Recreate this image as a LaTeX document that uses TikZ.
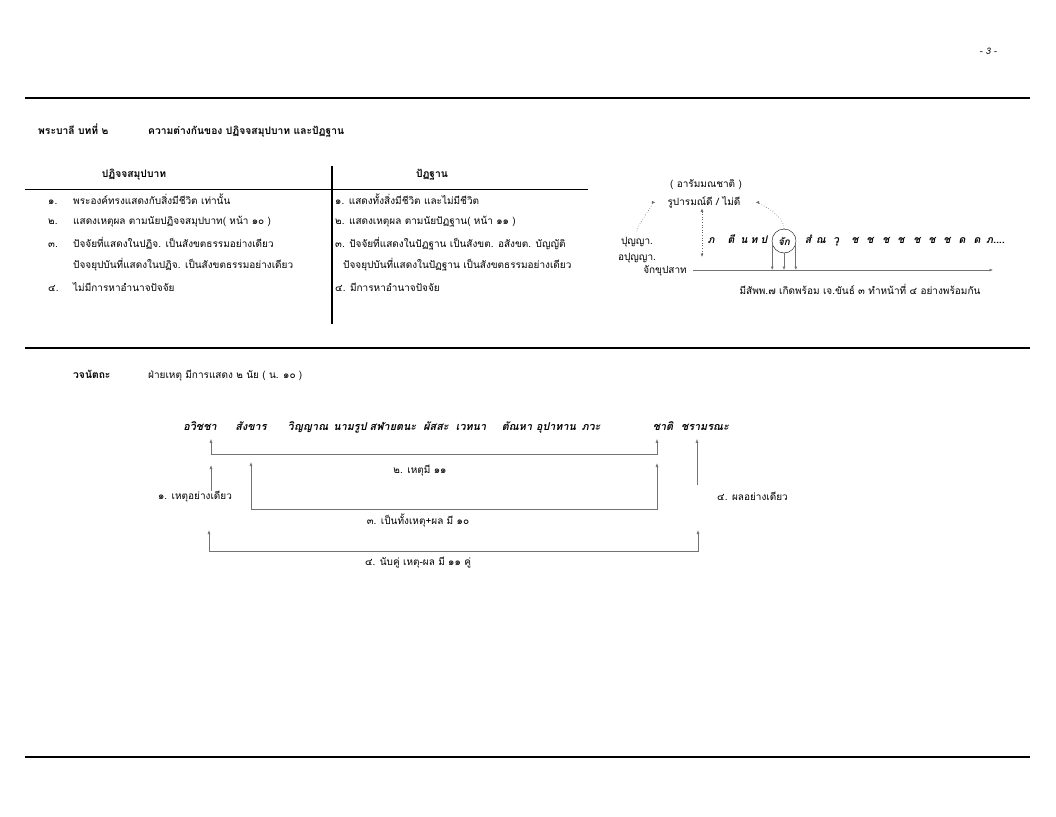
\documentclass[tikz,border=0pt]{standalone}
\usepackage{fontspec}
\setmainfont[Script=Thai]{Loma}
\usetikzlibrary{arrows.meta,positioning}

\tikzset{
	txt/.style={inner sep=0pt,anchor=mid west,font=\fontsize{10}{12}\selectfont},
	hd/.style={inner sep=0pt,anchor=mid,font=\fontsize{10.3}{12}\selectfont\bfseries},
	word/.style={inner xsep=0pt,inner ysep=8pt,anchor=mid,font=\fontsize{10.8}{12}\selectfont\bfseries\itshape},
	akkhara/.style={inner sep=0pt,anchor=mid,font=\fontsize{10.5}{12}\selectfont\bfseries\itshape},
	rule/.style={line width=1.4pt},
	link/.style={draw=black!55,line width=0.6pt},
	oneway/.style={-{Latex[length=4pt,width=3pt]}},
	twoway/.style={{Latex[length=4pt,width=3pt]}-{Latex[length=4pt,width=3pt]}},
	small/.style={-{Latex[length=3.5pt,width=3pt]}},
	dots/.style={draw=black!60,dotted,line width=0.6pt},
}

\begin{document}
\begin{tikzpicture}[x=1pt,y=-1pt]
	\useasboundingbox (0,0) rectangle (1056,816);

	\node[txt,anchor=mid,font=\fontsize{9}{10}\selectfont\itshape] (page) at (988,52) {- 3 -};
	\draw[rule] (25,98) -- (1030,98);
	\draw[rule] (25,348) -- (1030,348);
	\draw[rule] (25,757) -- (1030,757);

	% table
	\node[hd,anchor=mid west] (bali) at (38,132) {พระบาลี บทที่ ๒};
	\node[hd,anchor=mid west] (title) at (148,132) {ความต่างกันของ ปฏิจจสมุปบาท และปัฏฐาน};
	\node[hd] (patic) at (134,175) {ปฏิจจสมุปบาท};
	\node[hd] (patthan) at (432,175) {ปัฏฐาน};
	\draw[line width=1.2pt] (332,166) -- (332,324);
	\draw[line width=1pt] (25,189) -- (588,189);

	\node[txt] (n_1) at (48,202) {๑.};
	\node[txt] (n_2) at (48,222) {๒.};
	\node[txt] (n_3) at (48,245) {๓.};
	\node[txt] (n_4) at (48,289) {๔.};
	\node[txt] (l_1) at (73,202) {พระองค์ทรงแสดงกับสิ่งมีชีวิต เท่านั้น};
	\node[txt] (l_2) at (73,222) {แสดงเหตุผล ตามนัยปฏิจจสมุปบาท( หน้า ๑๐ )};
	\node[txt] (l_3) at (73,245) {ปัจจัยที่แสดงในปฏิจ. เป็นสังขตธรรมอย่างเดียว};
	\node[txt] (l_3b) at (73,266) {ปัจจยุปบันที่แสดงในปฏิจ. เป็นสังขตธรรมอย่างเดียว};
	\node[txt] (l_4) at (73,289) {ไม่มีการหาอำนาจปัจจัย};

	\node[txt] (r_1) at (335,202) {๑. แสดงทั้งสิ่งมีชีวิต และไม่มีชีวิต};
	\node[txt] (r_2) at (335,222) {๒. แสดงเหตุผล ตามนัยปัฏฐาน( หน้า ๑๑ )};
	\node[txt] (r_3) at (335,245) {๓. ปัจจัยที่แสดงในปัฏฐาน เป็นสังขต. อสังขต. บัญญัติ};
	\node[txt] (r_3b) at (343,266) {ปัจจยุปบันที่แสดงในปัฏฐาน เป็นสังขตธรรมอย่างเดียว};
	\node[txt] (r_4) at (335,289) {๔. มีการหาอำนาจปัจจัย};

	% citta vithi
	\node[txt,anchor=mid] (aram) at (706,185) {( อารัมมณชาติ )};
	\node[txt,anchor=mid] (rupa) at (704,203) {รูปารมณ์ดี / ไม่ดี};
	\node[txt,anchor=mid] (punya) at (637,242) {ปุญญา.};
	\node[txt,anchor=mid] (apunya) at (637,258) {อปุญญา.};
	\foreach \ch/\x [count=\i] in {ภ/711,ตี/731,น/744,ท/754,ป/764}
		\node[akkhara] (vl_\i) at (\x,241) {\ch};
	\node[draw,circle,minimum size=24pt,inner sep=0pt,font=\fontsize{10}{12}\selectfont\bfseries\itshape] (jak) at (784,241) {จัก};
	\foreach \ch/\x [count=\i] in {สํ/808,ณ/821,วุ/836,ช/855,ช/870,ช/886,ช/901,ช/917,ช/932,ช/947,ด/962,ด/977}
		\node[akkhara] (vr_\i) at (\x,241) {\ch};
	\node[akkhara,anchor=mid west] (vr_end) at (986,241) {ภ....};
	\node[txt,anchor=mid] (jakkhu) at (665,271) {จักขุปสาท};
	\coordinate (jr) at (993,270);
	\coordinate (dv) at (702,257);
	\node[txt,anchor=mid] (sabba) at (860,292) {มีสัพพ.๗ เกิดพร้อม เจ.ขันธ์ ๓ ทำหน้าที่ ๔ อย่างพร้อมกัน};

	\draw[dots,small,shorten <=6pt,shorten >=12pt] (punya.north) .. controls +(0,-12) and +(-12,0) .. (rupa.west);
	\draw[dots,small,shorten >=15pt] (jak.north) .. controls +(0,-16) and +(14,0) .. (rupa.east);
	\draw[dots,{Latex[length=3.5pt,width=3pt]}-{Latex[length=3.5pt,width=3pt]}] (dv |- rupa.south) -- (dv);
	\draw[link,small] ([xshift=6pt]jakkhu.east |- jr) -- (jr);
	\draw[link,small] (jak.195) -- (jak.195 |- jr);
	\draw[link,small] (jak.south) -- (jak.south |- jr);
	\draw[link,small] (jak.345) -- (jak.345 |- jr);

	% vacanattha
	\node[hd,anchor=mid west] (vacan) at (73,376) {วจนัตถะ};
	\node[txt] (fai) at (148,376) {ฝ่ายเหตุ มีการแสดง ๒ นัย ( น. ๑๐ )};

	\node[word] (avijja) at (200,428) {อวิชชา};
	\node[word] (sankhara) at (251,428) {สังขาร};
	\node[word] (vinnana) at (308,428) {วิญญาณ};
	\node[word] (namarupa) at (350,428) {นามรูป};
	\node[word] (salayatana) at (393,428) {สฬายตนะ};
	\node[word] (phassa) at (436,428) {ผัสสะ};
	\node[word] (vedana) at (471,428) {เวทนา};
	\node[word] (tanha) at (517,428) {ตัณหา};
	\node[word] (upadana) at (556,428) {อุปาทาน};
	\node[word] (bhava) at (591,428) {ภวะ};
	\node[word] (jati) at (663,428) {ชาติ};
	\node[word] (jaramarana) at (705,428) {ชรามรณะ};

	\coordinate (a_1) at (211,465);
	\coordinate (b_3l) at (251,462);
	\coordinate (b_3r) at (657,463);
	\coordinate (b_4l) at (209,530);
	\coordinate (b_4r) at (698,530);
	\coordinate (p_1) at (697,485);

	\node[txt,anchor=mid] (hetu11) at (420,471) {๒. เหตุมี ๑๑};
	\node[txt,anchor=mid] (onlyhetu) at (195,497) {๑. เหตุอย่างเดียว};
	\node[txt,anchor=mid] (both10) at (418,522) {๓. เป็นทั้งเหตุ+ผล มี ๑๐};
	\node[txt,anchor=mid] (pairs11) at (418,563) {๔. นับคู่ เหตุ-ผล มี ๑๑ คู่};
	\node[txt] (onlyphala) at (717,498) {๔. ผลอย่างเดียว};

	\draw[link,twoway] ([xshift=11pt]avijja.south) -- ++(0,15) -| ([xshift=-6pt]jati.south);
	\draw[link,oneway] (onlyhetu.north -| a_1) -- (a_1);
	\draw[link,twoway] (b_3l) -- ++(0,47) -| (b_3r);
	\draw[link,twoway] (b_4l) -- ++(0,21) -| (b_4r);
	\draw[link,oneway] (p_1) -- (p_1 |- jaramarana.south);
\end{tikzpicture}
\end{document}
